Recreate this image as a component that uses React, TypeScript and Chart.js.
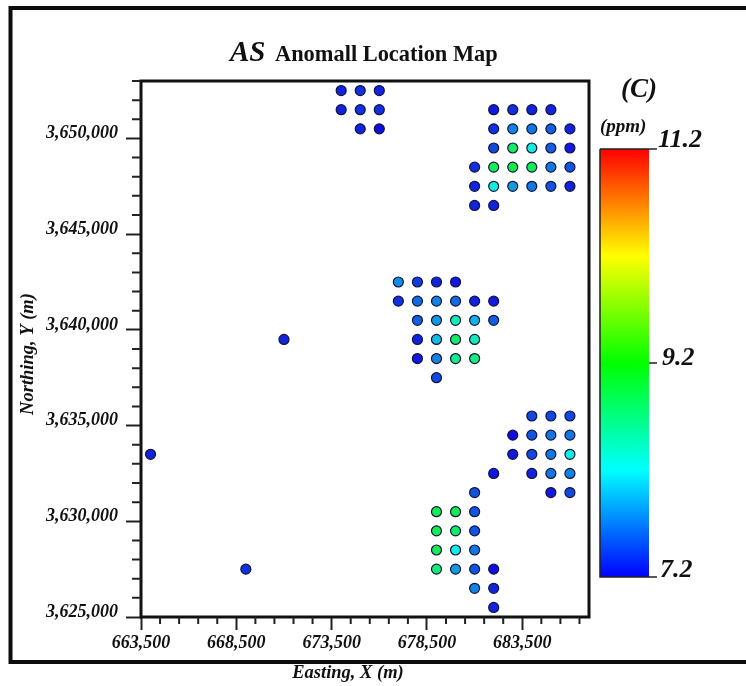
import React, { useEffect, useRef } from "react";
import { Chart, registerables } from "chart.js";

Chart.register(...registerables);

const SERIF = "'Liberation Serif', 'Times New Roman', serif";
const INK = "#111111";

// [easting, northing, As ppm]
type Sample = [number, number, number];

const northWestSamples: Sample[] = [
  [674000, 3652500, 7.35], [675000, 3652500, 7.4], [676000, 3652500, 7.35],
  [674000, 3651500, 7.35], [675000, 3651500, 7.4], [676000, 3651500, 7.4],
  [675000, 3650500, 7.35], [676000, 3650500, 7.25],
];

const northEastSamples: Sample[] = [
  [682000, 3651500, 7.3], [683000, 3651500, 7.4], [684000, 3651500, 7.35], [685000, 3651500, 7.35],
  [682000, 3650500, 7.4], [683000, 3650500, 7.75], [684000, 3650500, 7.7], [685000, 3650500, 7.6], [686000, 3650500, 7.35],
  [682000, 3649500, 7.5], [683000, 3649500, 8.75], [684000, 3649500, 8.2], [685000, 3649500, 7.6], [686000, 3649500, 7.3],
  [681000, 3648500, 7.4], [682000, 3648500, 8.8], [683000, 3648500, 8.9], [684000, 3648500, 8.85], [685000, 3648500, 7.7], [686000, 3648500, 7.55],
  [681000, 3647500, 7.35], [682000, 3647500, 8.25], [683000, 3647500, 7.85], [684000, 3647500, 7.7], [685000, 3647500, 7.55], [686000, 3647500, 7.35],
  [681000, 3646500, 7.35], [682000, 3646500, 7.35],
];

const centralSamples: Sample[] = [
  [677000, 3642500, 7.8], [678000, 3642500, 7.45], [679000, 3642500, 7.35], [680000, 3642500, 7.3],
  [677000, 3641500, 7.4], [678000, 3641500, 7.65], [679000, 3641500, 7.75], [680000, 3641500, 7.65], [681000, 3641500, 7.35], [682000, 3641500, 7.3],
  [678000, 3640500, 7.6], [679000, 3640500, 7.85], [680000, 3640500, 8.4], [681000, 3640500, 7.95], [682000, 3640500, 7.6],
  [678000, 3639500, 7.35], [679000, 3639500, 8.0], [680000, 3639500, 8.75], [681000, 3639500, 8.4],
  [678000, 3638500, 7.3], [679000, 3638500, 7.75], [680000, 3638500, 8.6], [681000, 3638500, 8.65],
  [679000, 3637500, 7.5],
];

const southEastSamples: Sample[] = [
  [684000, 3635500, 7.5], [685000, 3635500, 7.5], [686000, 3635500, 7.5],
  [683000, 3634500, 7.25], [684000, 3634500, 7.55], [685000, 3634500, 7.7], [686000, 3634500, 7.7],
  [683000, 3633500, 7.3], [684000, 3633500, 7.5], [685000, 3633500, 7.7], [686000, 3633500, 8.2],
  [682000, 3632500, 7.3], [684000, 3632500, 7.35], [685000, 3632500, 7.7], [686000, 3632500, 7.75],
  [681000, 3631500, 7.55], [685000, 3631500, 7.3], [686000, 3631500, 7.5],
];

const southSamples: Sample[] = [
  [679000, 3630500, 8.85], [680000, 3630500, 8.85], [681000, 3630500, 7.55],
  [679000, 3629500, 8.85], [680000, 3629500, 8.75], [681000, 3629500, 7.55],
  [679000, 3628500, 8.85], [680000, 3628500, 8.2], [681000, 3628500, 7.7],
  [679000, 3627500, 8.7], [680000, 3627500, 7.85], [681000, 3627500, 7.55], [682000, 3627500, 7.25],
  [681000, 3626500, 7.75], [682000, 3626500, 7.35],
  [682000, 3625500, 7.35],
];

const isolatedSamples: Sample[] = [
  [671000, 3639500, 7.35],
  [664000, 3633500, 7.35],
  [669000, 3627500, 7.4],
];

const allSamples: Sample[] = [
  ...northWestSamples, ...northEastSamples, ...centralSamples,
  ...southEastSamples, ...southSamples, ...isolatedSamples,
];

const xRange = [663500, 687000];
const yRange = [3625000, 3653000];
const minorStep = 1000;
const majorStep = 5000;
const colorbarTicks = [7.2, 9.2, 11.2];

const jetStops: [number, number, number][] = [
  [0, 0, 255], [0, 128, 255], [0, 255, 255], [0, 255, 128],
  [0, 255, 0], [128, 255, 0], [255, 255, 0], [255, 128, 0], [255, 0, 0],
];

function ppmRgb(v: number): number[] {
  const lo = colorbarTicks[0];
  const hi = colorbarTicks[colorbarTicks.length - 1];
  const t = Math.min(1, Math.max(0, (v - lo) / (hi - lo))) * (jetStops.length - 1);
  const i = Math.min(jetStops.length - 2, Math.floor(t));
  const f = t - i;
  return jetStops[i].map((a, k) => Math.round(a + (jetStops[i + 1][k] - a) * f));
}
const ppmColor = (v: number) => {
  const c = ppmRgb(v);
  return `rgb(${c[0]},${c[1]},${c[2]})`;
};
// the printed dots are slightly muted compared with the colour bar
const dotColor = (v: number) => {
  const c = ppmRgb(v);
  return `rgb(${Math.max(c[0], 18)},${Math.round(c[1] * 0.93)},${Math.round(c[2] * 0.88)})`;
};

const stepsFrom = (lo: number, hi: number) => {
  const out: { value: number }[] = [];
  for (let v = lo; v <= hi; v += minorStep) out.push({ value: v });
  return out;
};

const tickFont = { family: SERIF, size: 18, style: "italic" as const, weight: "bold" as const };

const sheet = {
  id: "sheet",
  beforeDraw(chart: any) {
    const { ctx, width, height } = chart;
    ctx.save();
    ctx.fillStyle = "#ffffff";
    ctx.fillRect(0, 0, width, height);
    ctx.strokeStyle = "#0c0c0c";
    ctx.lineWidth = 4;
    ctx.strokeRect(10.5, 8, 745, 654);
    ctx.restore();
  },
  afterDraw(chart: any) {
    const { ctx, chartArea: a, scales } = chart;
    ctx.save();
    // plot box
    ctx.strokeStyle = INK;
    ctx.lineWidth = 3;
    ctx.strokeRect(a.left, a.top, a.right - a.left, a.bottom - a.top);

    // minor ticks
    ctx.strokeStyle = "#222222";
    ctx.lineWidth = 2;
    ctx.beginPath();
    scales.x.ticks.forEach((t: any) => {
      if ((t.value - xRange[0]) % majorStep === 0) return;
      const p = scales.x.getPixelForValue(t.value);
      ctx.moveTo(p, a.bottom);
      ctx.lineTo(p, a.bottom + 7);
    });
    scales.y.ticks.forEach((t: any) => {
      if ((t.value - yRange[0]) % majorStep === 0) return;
      const p = scales.y.getPixelForValue(t.value);
      ctx.moveTo(a.left, p);
      ctx.lineTo(a.left - 9, p);
    });
    ctx.stroke();

    // colour bar
    const bar = { left: 600, right: 649, top: 149, bottom: 577 };
    const lo = colorbarTicks[0];
    const hi = colorbarTicks[colorbarTicks.length - 1];
    const grad = ctx.createLinearGradient(0, bar.bottom, 0, bar.top);
    for (let i = 0; i <= 40; i++) grad.addColorStop(i / 40, ppmColor(lo + ((hi - lo) * i) / 40));
    ctx.fillStyle = grad;
    ctx.fillRect(bar.left, bar.top, bar.right - bar.left, bar.bottom - bar.top);
    ctx.strokeStyle = "#222222";
    ctx.lineWidth = 1.5;
    ctx.beginPath();
    ctx.moveTo(bar.left, bar.top);
    ctx.lineTo(bar.left, bar.bottom);
    ctx.lineTo(bar.right, bar.bottom);
    ctx.moveTo(bar.left, bar.top);
    ctx.lineTo(bar.right, bar.top);
    colorbarTicks.forEach((v) => {
      const py = bar.bottom - ((v - lo) / (hi - lo)) * (bar.bottom - bar.top);
      ctx.moveTo(bar.right, py);
      ctx.lineTo(bar.right + 8, py);
    });
    ctx.stroke();

    // text
    ctx.fillStyle = INK;
    ctx.textBaseline = "middle";
    ctx.textAlign = "left";
    const bi = (s: number) => `italic bold ${s}px ${SERIF}`;
    ctx.font = bi(26);
    ctx.fillText("11.2", 658, 140);
    ctx.fillText("9.2", 662, 358);
    ctx.fillText("7.2", 660, 570);
    ctx.font = bi(27);
    ctx.fillText("(C)", 621, 90);
    ctx.font = bi(19);
    ctx.fillText("(ppm)", 600, 127);

    ctx.textBaseline = "alphabetic";
    ctx.font = bi(29);
    ctx.fillText("AS", 230, 61);
    ctx.font = `bold 22.4px ${SERIF}`;
    ctx.fillText("Anomall Location Map", 275, 61);

    ctx.textBaseline = "middle";
    ctx.textAlign = "center";
    ctx.font = bi(18.5);
    ctx.fillText("Easting, X (m)", 348, 673);
    ctx.save();
    ctx.translate(28, 354);
    ctx.rotate(-Math.PI / 2);
    ctx.fillText("Northing, Y (m)", 0, 0);
    ctx.restore();
    ctx.restore();
  },
};

export default function App() {
  const ref = useRef<HTMLCanvasElement | null>(null);

  useEffect(() => {
    if (!ref.current) return;
    const chart = new Chart(ref.current, {
      type: "scatter",
      data: {
        datasets: [
          {
            label: "As (ppm)",
            data: allSamples.map(([x, y]) => ({ x, y })),
            pointRadius: 5,
            pointBorderWidth: 1.2,
            pointBorderColor: "#101340",
            pointBackgroundColor: allSamples.map((s) => dotColor(s[2])),
          },
        ],
      },
      options: {
        animation: false,
        responsive: false,
        events: [],
        layout: { padding: { left: 0, top: 81, right: 157, bottom: 0 } },
        plugins: { legend: { display: false }, tooltip: { enabled: false }, title: { display: false } },
        scales: {
          x: {
            type: "linear",
            min: xRange[0],
            max: xRange[1],
            afterBuildTicks: (s: any) => { s.ticks = stepsFrom(xRange[0], xRange[1]); },
            afterFit: (s: any) => { s.height = 69; },
            border: { display: false },
            grid: {
              drawOnChartArea: false,
              tickLength: 13,
              tickWidth: 2,
              tickColor: (c: any) => ((c.tick.value - xRange[0]) % majorStep === 0 ? "#222222" : "transparent"),
            },
            ticks: {
              autoSkip: false,
              maxRotation: 0,
              minRotation: 0,
              padding: 3,
              color: INK,
              font: tickFont,
              callback: (v: any) => ((v - xRange[0]) % majorStep === 0 ? Number(v).toLocaleString("en-US") : ""),
            },
          },
          y: {
            type: "linear",
            min: yRange[0],
            max: yRange[1],
            afterBuildTicks: (s: any) => { s.ticks = stepsFrom(yRange[0], yRange[1]).reverse(); },
            afterFit: (s: any) => { s.width = 141; },
            border: { display: false },
            grid: {
              drawOnChartArea: false,
              tickLength: 15,
              tickWidth: 2,
              tickColor: (c: any) => ((c.tick.value - yRange[0]) % majorStep === 0 ? "#222222" : "transparent"),
            },
            ticks: {
              autoSkip: false,
              padding: 8,
              labelOffset: -5,
              color: INK,
              font: tickFont,
              callback: (v: any) => ((v - yRange[0]) % majorStep === 0 ? Number(v).toLocaleString("en-US") : ""),
            },
          },
        },
      },
      plugins: [sheet],
    } as any);
    return () => chart.destroy();
  }, []);

  return (
    <div style={{ position: "fixed", left: 0, top: 0, width: 746, height: 686, overflow: "hidden", background: "#fff" }}>
      <canvas ref={ref} width={746} height={686} style={{ display: "block" }} />
    </div>
  );
}
